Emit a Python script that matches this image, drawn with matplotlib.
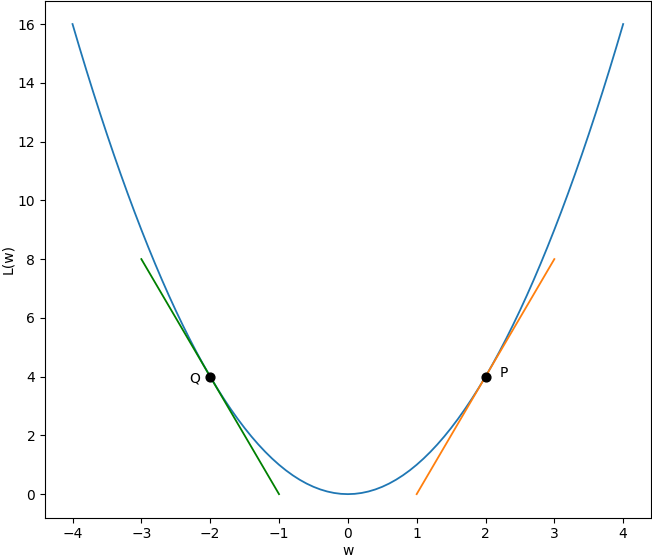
import matplotlib
matplotlib.use("Agg")
import matplotlib.pyplot as plt

# loss curve samples
w = [-4.0, -3.9, -3.8, -3.7, -3.6, -3.5, -3.4, -3.3, -3.2, -3.1,
     -3.0, -2.9, -2.8, -2.7, -2.6, -2.5, -2.4, -2.3, -2.2, -2.1,
     -2.0, -1.9, -1.8, -1.7, -1.6, -1.5, -1.4, -1.3, -1.2, -1.1,
     -1.0, -0.9, -0.8, -0.7, -0.6, -0.5, -0.4, -0.3, -0.2, -0.1,
     0.0, 0.1, 0.2, 0.3, 0.4, 0.5, 0.6, 0.7, 0.8, 0.9,
     1.0, 1.1, 1.2, 1.3, 1.4, 1.5, 1.6, 1.7, 1.8, 1.9,
     2.0, 2.1, 2.2, 2.3, 2.4, 2.5, 2.6, 2.7, 2.8, 2.9,
     3.0, 3.1, 3.2, 3.3, 3.4, 3.5, 3.6, 3.7, 3.8, 3.9, 4.0]
loss = [16.0, 15.21, 14.44, 13.69, 12.96, 12.25, 11.56, 10.89, 10.24, 9.61,
        9.0, 8.41, 7.84, 7.29, 6.76, 6.25, 5.76, 5.29, 4.84, 4.41,
        4.0, 3.61, 3.24, 2.89, 2.56, 2.25, 1.96, 1.69, 1.44, 1.21,
        1.0, 0.81, 0.64, 0.49, 0.36, 0.25, 0.16, 0.09, 0.04, 0.01,
        0.0, 0.01, 0.04, 0.09, 0.16, 0.25, 0.36, 0.49, 0.64, 0.81,
        1.0, 1.21, 1.44, 1.69, 1.96, 2.25, 2.56, 2.89, 3.24, 3.61,
        4.0, 4.41, 4.84, 5.29, 5.76, 6.25, 6.76, 7.29, 7.84, 8.41,
        9.0, 9.61, 10.24, 10.89, 11.56, 12.25, 12.96, 13.69, 14.44, 15.21, 16.0]

# tangent segments
tan_p_w = [1.0, 3.0]
tan_p_l = [0.0, 8.0]
tan_q_w = [-3.0, -1.0]
tan_q_l = [8.0, 0.0]

# points
pts_w = [2.0, -2.0]
pts_l = [4.0, 4.0]

fig = plt.figure(figsize=(6.52, 5.56), dpi=100)
ax = fig.add_axes([0.069, 0.069, 0.929, 0.930])

ax.plot(w, loss, lw=1.3)
ax.plot(tan_p_w, tan_p_l, color="tab:orange", lw=1.3)
ax.plot(tan_q_w, tan_q_l, color="g", lw=1.3)
ax.scatter(pts_w, pts_l, color="black", s=40, zorder=3)
ax.text(2.2, 4.0, "P", fontsize=10)
ax.text(-2.3, 3.8, "Q", fontsize=10)

ax.set_xlabel("w", labelpad=2)
ax.set_ylabel("L(w)", labelpad=2)

fig.savefig("out.png", dpi=100)
